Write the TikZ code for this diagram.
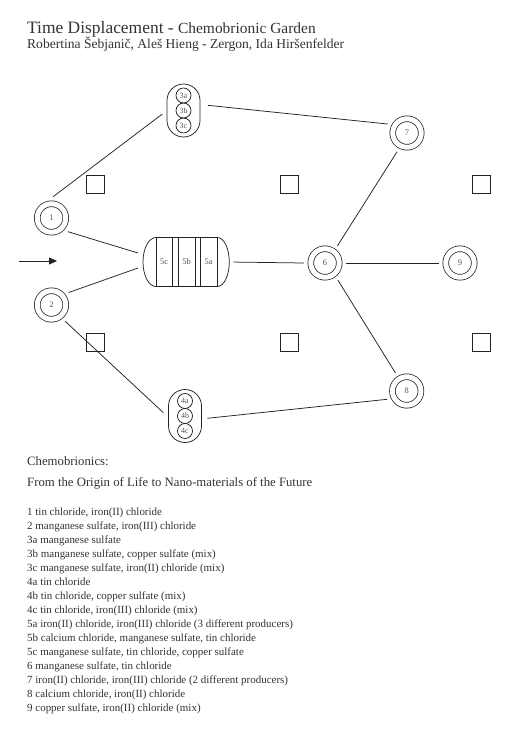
\documentclass[tikz,border=0pt]{standalone}
\usepackage{fontspec}
\setmainfont{Liberation Serif}
\usetikzlibrary{arrows.meta}
\definecolor{ink}{HTML}{222222}
\definecolor{txt}{HTML}{333333}
\definecolor{lbl}{HTML}{555555}
\begin{document}
\begin{tikzpicture}[x=1bp,y=-1bp,
  dcirc/.style={circle, draw=ink, double=white, double distance=5bp, line width=0.75bp,
    minimum size=28.5bp, inner sep=0pt, outer sep=7bp, font=\fontsize{8.5}{9}\selectfont, text=lbl},
  capsule/.style={rectangle, rounded corners=16.5bp, draw=ink, line width=0.75bp,
    minimum width=33bp, minimum height=53bp, inner sep=0pt, outer sep=0pt},
  smallc/.style={circle, draw=ink, line width=0.75bp, minimum size=15bp, inner sep=0pt,
    font=\fontsize{8}{9}\selectfont, text=lbl},
  sqbox/.style={rectangle, draw=ink, line width=0.75bp, minimum size=18bp, inner sep=0pt},
  link/.style={draw=ink, line width=0.75bp},
  lbl5/.style={inner sep=0pt, font=\fontsize{8.5}{9}\selectfont, text=lbl},
  txtline/.style={anchor=base west, inner sep=0pt, text=txt},
  listtxt/.style={txtline, font=\fontsize{11}{13}\selectfont}
]
\useasboundingbox (0,0) rectangle (520,729);

% titles
\node[txtline] (title) at (27,34) {\fontsize{17.5}{20}\selectfont Time Displacement - {\fontsize{15.5}{18}\selectfont Chemobrionic Garden}};
\node[txtline, font=\fontsize{13.6}{16}\selectfont] (authors) at (27,48.5) {Robertina Šebjanič, Aleš Hieng - Zergon, Ida Hiršenfelder};

% circle nodes
\node[dcirc] (n1) at (51.5,218) {1};
\node[dcirc] (n2) at (51.5,305) {2};
\node[dcirc] (n6) at (325,263) {6};
\node[dcirc] (n7) at (407,133) {7};
\node[dcirc] (n8) at (406.7,391) {8};
\node[dcirc] (n9) at (460,263) {9};

% capsules
\node[capsule] (c3) at (183.5,110.5) {};
\node[smallc] (c3a) at (183.5,95.5) {3a};
\node[smallc] (c3b) at (183.5,110.5) {3b};
\node[smallc] (c3c) at (183.5,125.5) {3c};
\node[capsule] (c4) at (185,416) {};
\node[smallc] (c4a) at (185,401) {4a};
\node[smallc] (c4b) at (185,416) {4b};
\node[smallc] (c4c) at (185,431) {4c};

% node 5
\node[rectangle, draw=ink, line width=0.75bp, minimum width=61.3bp, minimum height=49bp, inner sep=0pt, outer sep=0pt] (n5box) at (186.65,262) {};
\node[inner sep=0pt, outer sep=0pt, minimum width=86.3bp, minimum height=49bp] (n5) at (186.2,262) {};
\draw[link] (n5box.north west) arc[start angle=90, end angle=270, x radius=13bp, y radius=24.5bp];
\draw[link] (n5box.north east) arc[start angle=90, end angle=-90, x radius=12bp, y radius=24.5bp];
\draw[link] (172.3,237.5) -- (172.3,286.5);
\draw[link] (178.3,237.5) -- (178.3,286.5);
\draw[link] (195,237.5) -- (195,286.5);
\draw[link] (200,237.5) -- (200,286.5);
\node[lbl5] (l5c) at (164.2,262) {5c};
\node[lbl5] (l5b) at (186.6,262) {5b};
\node[lbl5] (l5a) at (208.6,262) {5a};

% squares
\node[sqbox] (s1) at (95,184) {};
\node[sqbox] (s2) at (289,184) {};
\node[sqbox] (s3) at (481.7,184) {};
\node[sqbox] (s4) at (95,342) {};
\node[sqbox] (s5) at (289,342) {};
\node[sqbox] (s6) at (481.7,342) {};

% arrow
\coordinate (a0) at (19,261);
\coordinate (a1) at (57,261);
\draw[link,-{Triangle[length=8bp,width=7bp]}] (a0) -- (a1);

% connectors
\coordinate (p5a) at (138,253);
\coordinate (p5b) at (138,268);
\draw[link,shorten >=6bp] (n1.86) -- (c3.west);
\draw[link] (n1.-40) -- (p5a);
\draw[link] (n2.36) -- (p5b);
\draw[link,shorten >=7bp] (n2.-50) -- (c4.185);
\draw[link,shorten <=8bp] (c3.20) -- (n7.155);
\draw[link,shorten <=4bp] (n5.east) -- (n6.west);
\draw[link] (n6.east) -- (n9.west);
\draw[link] (n6.54) -- (n7.242);
\draw[link] (n6.-53) -- (n8.122);
\draw[link,shorten <=6bp] (c4.-10) -- (n8.203);

% text block
\node[txtline, font=\fontsize{12.8}{15}\selectfont] (chem) at (27,465) {Chemobrionics:};
\node[txtline, font=\fontsize{12.8}{15}\selectfont] (origin) at (27,486) {From the Origin of Life to Nano-materials of the Future};
\foreach \t [count=\i] in {
  {1 tin chloride, iron(II) chloride},
  {2 manganese sulfate, iron(III) chloride},
  {3a manganese sulfate},
  {3b manganese sulfate, copper sulfate (mix)},
  {3c manganese sulfate, iron(II) chloride (mix)},
  {4a tin chloride},
  {4b tin chloride, copper sulfate (mix)},
  {4c tin chloride, iron(III) chloride (mix)},
  {5a iron(II) chloride, iron(III) chloride (3 different producers)},
  {5b calcium chloride, manganese sulfate, tin chloride},
  {5c manganese sulfate, tin chloride, copper sulfate},
  {6 manganese sulfate, tin chloride},
  {7 iron(II) chloride, iron(III) chloride (2 different producers)},
  {8 calcium chloride, iron(II) chloride},
  {9 copper sulfate, iron(II) chloride (mix)}}{
  \node[listtxt] (li\i) at (27,{515+14*(\i-1)}) {\t};
}
\end{tikzpicture}
\end{document}
